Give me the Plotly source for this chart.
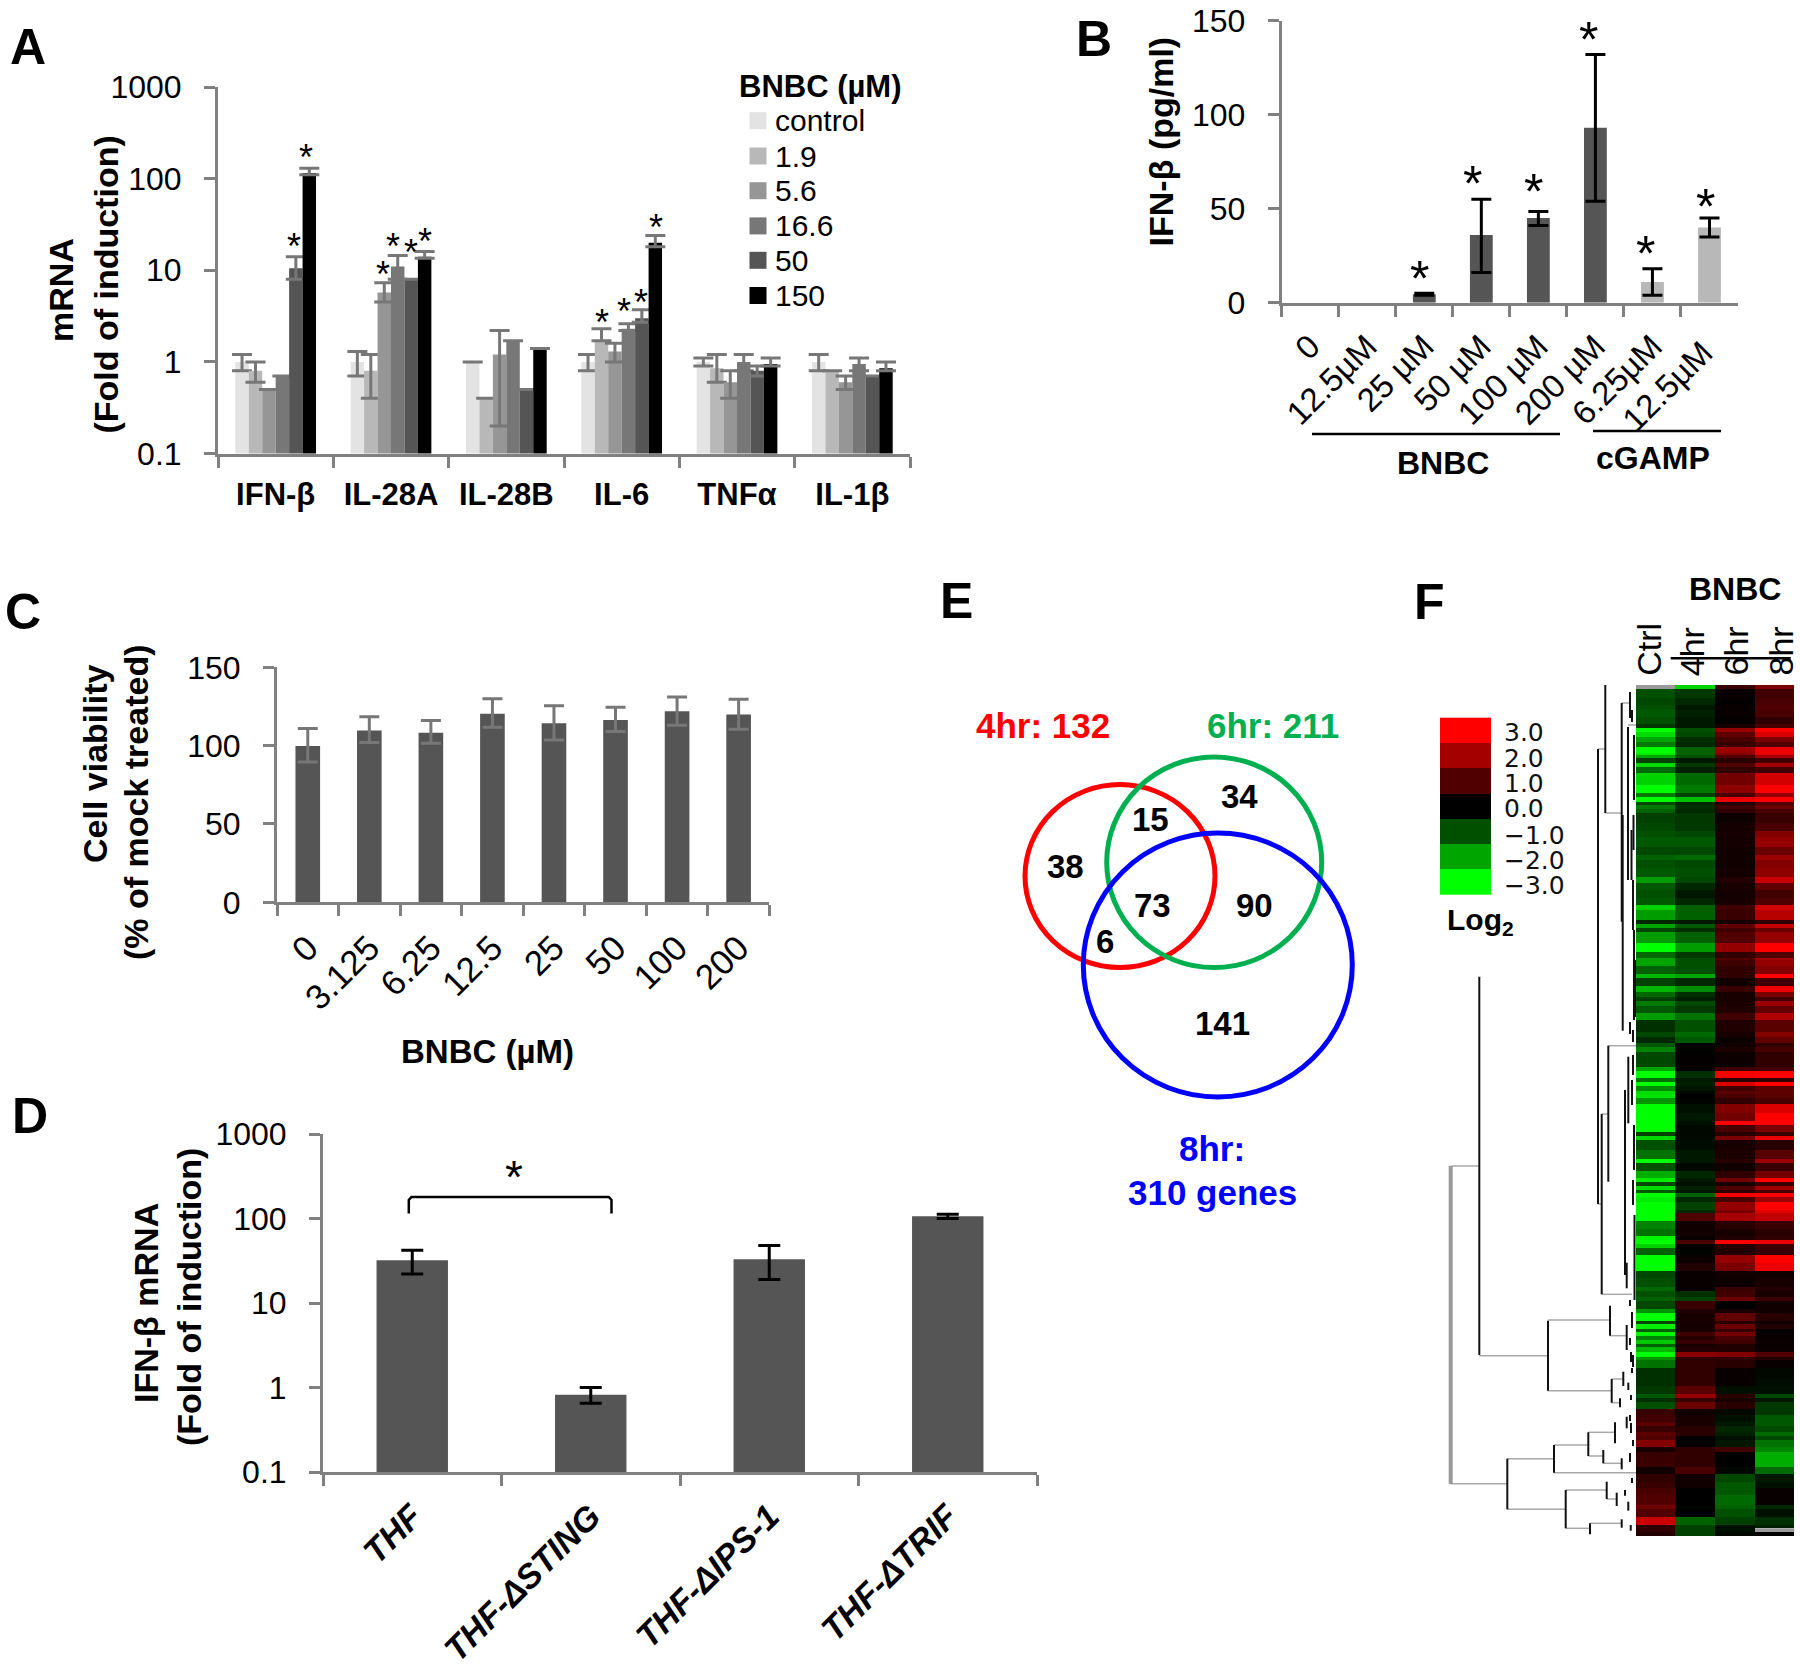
import plotly.graph_objects as go

W, H = 1800, 1669
FONT = "Liberation Sans"
AXIS = "#808080"
ERR = "#777777"
DARK = "#555555"
LIGHT = "#b8b8b8"

# ---------- Panel A ----------
a_cats = ["IFN-β", "IL-28A", "IL-28B", "IL-6", "TNFα", "IL-1β"]
a_doses = ["control", "1.9", "5.6", "16.6", "50", "150"]
a_colors = ["#e3e3e3", "#b8b8b8", "#969696", "#777777", "#555555", "#000000"]
a_control = [1.0, 1.0, 1.0, 1.0, 1.0, 1.0]
a_d19 = [0.8, 0.8, 0.4, 1.7, 0.85, 0.8]
a_d56 = [0.5, 5.7, 1.2, 1.3, 0.6, 0.6]
a_d166 = [0.7, 11.0, 1.7, 2.3, 1.0, 0.95]
a_d50 = [10.5, 8.0, 0.5, 3.0, 0.8, 0.7]
a_d150 = [115.0, 14.0, 1.4, 20.0, 0.95, 0.85]
a_low_control = [0.8, 0.7, 1.0, 0.8, 0.9, 0.8]
a_low_d19 = [0.6, 0.4, 0.4, 1.7, 0.6, 0.8]
a_low_d56 = [0.5, 4.5, 0.2, 1.0, 0.4, 0.5]
a_low_d166 = [0.7, 8.0, 1.7, 2.2, 0.8, 0.8]
a_low_d50 = [8.0, 8.0, 0.5, 2.7, 0.7, 0.7]
a_low_d150 = [110.0, 13.5, 1.4, 18.0, 0.9, 0.8]
a_high_control = [1.2, 1.3, 1.0, 1.2, 1.1, 1.2]
a_high_d19 = [1.0, 1.2, 0.4, 2.3, 1.2, 0.8]
a_high_d56 = [0.5, 7.3, 2.2, 1.6, 0.8, 0.7]
a_high_d166 = [0.7, 14.5, 1.7, 2.6, 1.2, 1.1]
a_high_d50 = [14.0, 8.0, 0.5, 3.7, 0.9, 0.7]
a_high_d150 = [130.0, 16.0, 1.4, 24.0, 1.1, 1.0]

# ---------- Panel B ----------
b_cats = ["0", "12.5µM", "25 µM", "50 µM", "100 µM", "200 µM", "6.25µM", "12.5µM "]
b_vals = [None, None, 4.5, 36, 45, 93, 11, 40]
b_low = [None, None, 4, 16, 41, 54, 4, 35]
b_high = [None, None, 5, 55, 48.5, 132, 18, 45]
b_colors = [DARK, DARK, DARK, DARK, DARK, DARK, LIGHT, LIGHT]

# ---------- Panel C ----------
c_cats = ["0", "3.125", "6.25", "12.5", "25", "50", "100", "200"]
c_vals = [99.8, 109.6, 108.3, 120.4, 114.3, 116.4, 122, 119.8]
c_low = [89.6, 102, 101.5, 111.7, 103.6, 109, 113, 110.4]
c_high = [111, 118.5, 116, 130, 125.5, 124.5, 131, 129.6]

# ---------- Panel D ----------
d_cats = ["THF", "THF-ΔSTING", "THF-ΔIPS-1", "THF-ΔTRIF"]
d_vals = [32, 0.82, 33, 106]
d_low = [22, 0.65, 19, 100]
d_high = [42, 1.0, 48, 112]

log_ticks = [0.1, 1, 10, 100, 1000]
log_labels = ["0.1", "1", "10", "100", "1000"]

# ---------- Panel F: heat map, (band bottom, ctrl, 4hr, 6hr, 8hr) ----------
heat_top_start = 345
heat_top = [
    (357, None, -2.5, 0.7, 1.5), (385, -1, -0.7, 0.1, 0.8), (405, -0.9, -0.5, 0.05, 0.9),
    (420, -1.0, -0.3, 0.1, 1.0), (440, -1.1, -0.4, 0.1, 0.9), (462, -1.0, -0.3, 0.05, 0.6),
    (474, -0.7, -0.3, 0.3, 0.9), (486, -3, -1, 1.8, 3), (500, -2.6, -0.9, 1.2, 2.6),
    (515, -2.0, -0.6, 0.9, 1.5), (532, -1.5, -0.5, 0.7, 1.0), (548, -3, -1.2, 1.9, 2.8),
    (556, -2.8, -1.2, 1.6, 2.7), (565, -2, -1, 1, 2), (578, -0.8, -0.3, 0.5, 0.8),
    (592, -2.6, -0.7, 1, 2), (610, -1.3, -0.4, 0.6, 0.8), (645, -2.5, -1.3, 1.4, 2.5),
    (670, -3, -1.5, 1.7, 3), (680, -1.5, -0.8, 0.9, 1.8), (695, -3, -2.3, 2.8, 3),
    (705, -0.9, -0.5, 0.4, 1), (718, -1.5, -0.6, 0.8, 1.3), (730, -1.2, -0.5, 0.6, 0.9),
    (760, -0.8, -0.7, 0.15, 0.7), (782, -0.9, -0.7, 0.25, 0.9), (800, -1.0, -0.9, 0.3, 1.6),
    (830, -1.1, -1.1, 0.25, 1.8), (855, -0.9, -0.9, 0.2, 1.3), (870, -1.2, -1.3, 0.2, 1.9),
    (895, -1.0, -0.9, 0.2, 1.6), (920, -1.1, -1, 0.25, 1.7), (940, -1.9, -0.9, 0.4, 2.4),
    (960, -1.1, -0.5, 0.3, 1.2), (985, -1.0, -0.3, 0.25, 0.8), (1005, -1.1, -0.5, 0.3, 1.0),
    (1020, -2.5, -1.2, 0.8, 2.5), (1050, -1.9, -1.2, 0.7, 2.2), (1062, -0.5, -0.3, 0.3, 0.6),
    (1075, -2, -1.1, 1.2, 2.4), (1085, -0.9, -0.6, 0.8, 1.3), (1120, -1.9, -1.2, 1.0, 1.8),
    (1145, -3, -1.9, 1.8, 3), (1165, -1.3, -0.7, 0.6, 1), (1170, -2, -1, 1, 2),
]
heat_mid = [
    (18, -2, -1, 0.8, 1.8), (42, -1.2, -1, 0.6, 1.6), (55, -2.2, -2, 0.6, 3),
    (78, -0.8, -0.5, 0.2, 0.8), (95, -2.2, -1.7, 0.7, 2.8), (112, -1.3, -0.6, 0.3, 1.5),
    (122, -0.8, -0.4, 0.3, 0.8), (138, -1.5, -0.9, 0.35, 1.9), (158, -1.1, -0.7, 0.4, 1.2),
    (180, -1.9, -1.4, 0.8, 2.1), (215, -0.6, -1.0, 0.4, 1.1), (232, -0.9, -1.3, 0.3, 1.6),
    (250, -0.5, -1.1, 0.15, 1.2), (262, -1.1, -0.05, 0.2, 0.6), (275, -1.6, -0.05, 0.35, 0.9),
    (320, -0.9, 0.05, 0.15, 0.6), (332, -2, 0, 0.8, 0.8), (355, -3, -0.6, 2.9, 3),
    (367, -1.4, -0.3, 0.5, 0.6), (378, -3, -0.4, 2.6, 3), (392, -1.7, -0.25, 0.8, 1.1),
    (403, -2.6, -0.1, 1.1, 1.2), (415, -2.7, 0, 0.9, 1.1), (433, -1.8, -0.05, 0.6, 0.9),
    (460, -3, -0.2, 1.6, 2.6), (483, -3, -0.3, 1.4, 3), (495, -3, -0.2, 3, 3),
    (515, -3, -0.1, 0.9, 1.5), (527, -0.8, -0.1, 0.5, 0.7), (540, -2.6, -0.1, 1.5, 2.8),
    (570, -1, -0.15, 0.3, 0.5), (597, -1.4, -0.3, 0.35, 1.1), (610, -3, -0.3, 0.5, 1.9),
    (632, -1, -0.1, 0.2, 0.7), (655, -2.1, -0.5, 0.6, 1.4), (667, -2.8, -0.3, 1.4, 3),
    (678, -0.9, -0.2, 0.3, 0.7), (690, -2.6, -0.4, 1.0, 2), (700, -1.1, -0.3, 0.6, 0.9),
    (712, -3, -1.2, 2.9, 3), (725, -2.8, -0.5, 0.9, 1.9), (750, -3, -0.8, 1.8, 3),
    (760, -3, -0.5, 1.5, 2.7), (782, -3, 1, 2, 2.3), (806, -1.6, 0.2, 0.5, 0.7),
    (828, -1.4, 0.2, 0.3, 0.5), (840, -2.9, 0.1, 0.4, 0.6), (852, -3, 0.9, 3, 2.8),
    (865, -2.5, 0.1, 0.5, 0.8), (885, -1.2, -0.05, 0.4, 0.7), (910, -3, 0.15, 1.8, 3),
    (932, -3, 0.4, 1.5, 2.8), (955, -0.9, 0.1, 0.2, 0.2), (980, -1, 0.1, 0.15, 0.3),
    (992, -1.3, 0.1, 0.7, 0.4), (1010, -1, -0.6, 0.8, 0.3), (1020, -1.2, -0.8, 1.3, 0.7),
]
heat_bot = [
    (4, -1.2, -0.8, 1.3, 0.7), (28, -0.9, 0.7, 0, 0.2), (40, -1.8, 0.4, 0.3, 0.2),
    (62, -3, 0.3, 1.2, 0.5), (72, -0.9, 0.3, 0.5, 0.2), (88, -2.8, 0.25, 1.3, 0.4),
    (96, -1.2, 0.3, 0.7, 0.1), (108, -2.9, 0.8, 1.4, 0.1), (120, -1.6, 0.5, 0.9, 0.1),
    (132, -2.4, 0.7, 0.8, 0.15), (142, -1.2, 0.3, 0.4, 0.1), (155, -2.2, 0.4, 0.4, 0.15),
    (170, -3, 1.7, 1.6, 1), (180, -1.8, 0.6, 0.6, 0.4), (203, -1.4, 0.6, 0.5, 0.1),
    (235, -0.6, 0.6, 0.1, -0.1), (258, -0.6, 0.6, 0.1, -0.15), (282, -0.7, 1.1, -0.2, -0.2),
    (294, -1.1, 1.8, 0.5, -0.9), (305, -0.6, 0.7, 0.3, -0.3), (328, -1.0, 1.3, 0.5, -0.7),
    (345, 0.7, 0.2, -0.1, -0.7), (365, 0.8, 0.3, -0.2, -1.1), (378, 1.1, 0.3, -0.3, -1.1),
    (395, 0.7, 0.5, -0.5, -0.9), (408, 1.1, 0.5, -0.4, -1.3), (420, 1.0, 0.0, -0.2, -0.9),
    (442, 1.6, 0, -0.3, -1.4), (455, 0.3, 0.6, 0.8, -1.6), (500, 0.7, 0.6, 0, -2.1),
    (522, 0.2, 0.9, -0.1, -1.3), (545, 0.6, 0.2, -0.9, -0.3), (565, 0.7, 0.2, -1.1, -0.2),
    (585, 0.9, 0, -1.1, 0.1), (615, 1.0, 0, -1.3, 0.1), (628, 1.4, -0.05, -1.2, -0.5),
    (650, 1, 0, -1, -0.2), (675, 2.4, -1.2, -0.8, -0.6), (685, 0.6, -0.8, -0.2, -0.4),
    (697, 0.6, -0.8, -0.2, None), (708, 0.4, -0.8, -0.1, 0),
]
heat_cols = ["Ctrl", "4hr", "6hr", "8hr"]
heat_col_edges = [1636, 1675.3, 1715, 1754.7, 1794.3]
legend_steps = [3, 2, 1, 0, -1, -2, -3]
legend_labels = ["3.0", "2.0", "1.0", "0.0", "−1.0", "−2.0", "−3.0"]

# ---------- Panel F: tree ----------
tree_black = [  # (x, y top, y bottom)
    (1605.3, 685, 813), (1598, 749, 1204), (1621.7, 703, 921.7), (1622.7, 815, 1030.7),
    (1628, 727, 880), (1630, 692, 718), (1632, 710, 722), (1634, 735, 800), (1633.5, 815, 850),
    (1631.5, 830, 880), (1633, 880, 930), (1634, 930, 1020), (1635, 960, 1017),
    (1630, 1022, 1034), (1633, 1030, 1042), (1479.3, 976.7, 1355), (1548, 1320.7, 1390.7),
    (1610, 1305.7, 1335.7), (1626.7, 1325, 1350), (1608.3, 1045.7, 1181.7), (1601.7, 1114, 1294.3),
    (1625, 1090, 1275), (1628.3, 1056.7, 1123.3), (1633, 1055, 1075), (1632, 1080, 1105),
    (1634, 1125, 1170), (1633, 1180, 1205), (1634.5, 1215, 1300), (1626.7, 1262.7, 1288.3),
    (1630, 1300, 1306), (1632, 1312, 1328), (1630, 1338, 1345), (1631, 1352, 1362), (1633, 1355, 1367),
    (1611.7, 1379, 1402.7), (1620, 1398.3, 1407.3), (1623.3, 1371.7, 1386), (1628.3, 1382.7, 1390),
    (1632, 1368, 1373), (1631, 1395, 1400), (1626.7, 1416.7, 1428.3), (1630, 1415, 1421),
    (1631, 1423, 1433), (1633, 1440, 1446), (1603.3, 1450, 1463.3), (1621.7, 1458.3, 1469.3),
    (1630, 1453, 1462), (1507.3, 1458.7, 1509.3), (1554, 1445, 1472.7), (1588.3, 1432.3, 1456),
    (1615, 1422.3, 1443.3), (1565.7, 1490, 1528.3), (1606.7, 1481.7, 1499), (1616.7, 1492.7, 1506),
    (1625, 1490, 1495.7), (1628.3, 1501.7, 1510.7), (1632, 1478, 1483), (1590, 1523.3, 1534.3),
    (1621.7, 1519.3, 1527.7), (1630.7, 1525, 1530.7),
]
tree_grey = [  # (y, x left, x right)
    (1166, 1450.7, 1479.3), (1355.7, 1479.3, 1548), (1320, 1548, 1610), (1335.7, 1610, 1626.7),
    (1045.7, 1608.3, 1636), (1114, 1601.7, 1608.3), (1294.3, 1601.7, 1632), (1204, 1598, 1601.7),
    (1483.7, 1450.7, 1507.3), (1458.7, 1507.3, 1554), (1445, 1554, 1588.3), (1432.3, 1588.3, 1615),
    (1456, 1588.3, 1603.3), (1463.3, 1603.3, 1621.7), (1472.7, 1554, 1636), (1509.3, 1507.3, 1565.7),
    (1490, 1565.7, 1606.7), (1528.3, 1565.7, 1590), (1523.3, 1590, 1621.7), (1499, 1606.7, 1616.7),
    (1390.7, 1548, 1611.7), (1402.7, 1611.7, 1620), (1379, 1611.7, 1623.3), (703, 1621.7, 1630),
    (749, 1598, 1605.3), (725, 1628, 1636), (813, 1605.3, 1622.7),
]
tree_root = [(1450.7, 1166, 1484)]

# ---------- Panel E ----------
venn_names = ["4hr", "6hr", "8hr"]
venn_colors = ["#ff0000", "#00b050", "#0000ff"]
venn_left = [1025, 1106.7, 1083.3]
venn_right = [1215, 1321.7, 1352.3]
venn_top = [784.6, 757, 833]
venn_bottom = [967.6, 967.6, 1097]
venn_counts = ["38", "34", "15", "73", "90", "6", "141"]
venn_count_x = [1065, 1239, 1150, 1152, 1254, 1105, 1222]
venn_count_y = [866, 796, 819, 905.6, 905, 941.6, 1023]

# ---------- star marks (page position) ----------
stars_a_x = [293.6, 305.5, 383, 392.6, 411, 424.7, 602, 624, 640.6, 656]
stars_a_y = [239.6, 150, 267, 239, 245.5, 234.5, 315, 304.5, 295, 220.7]
stars_b_x = [1419.4, 1472.7, 1533, 1588, 1645, 1705]
stars_b_y = [269, 174, 181.7, 30, 244, 197]


def dom_x(l, r):
    return [l / W, r / W]


def dom_y(t, b):
    return [1 - b / H, 1 - t / H]


fig = go.Figure()

# A ---------------------------------------------------------------
a_series = [a_control, a_d19, a_d56, a_d166, a_d50, a_d150]
a_lows = [a_low_control, a_low_d19, a_low_d56, a_low_d166, a_low_d50, a_low_d150]
a_highs = [a_high_control, a_high_d19, a_high_d56, a_high_d166, a_high_d50, a_high_d150]
bw = 0.7 / 6
for i, (name, col, vals, lo, hi) in enumerate(zip(a_doses, a_colors, a_series, a_lows, a_highs)):
    fig.add_bar(
        x=a_cats, y=vals, name=name, marker=dict(color=col, line=dict(width=0)),
        width=bw, offset=-0.35 + i * bw, xaxis="x", yaxis="y", showlegend=False,
        error_y=dict(type="data", symmetric=False,
                     array=[h - v for h, v in zip(hi, vals)],
                     arrayminus=[v - l for v, l in zip(vals, lo)],
                     color=ERR, thickness=3, width=10),
    )

# B ---------------------------------------------------------------
fig.add_bar(
    x=b_cats, y=b_vals, marker=dict(color=b_colors, line=dict(width=0)), xaxis="x2", yaxis="y2",
    showlegend=False,
    error_y=dict(type="data", symmetric=False,
                 array=[None if v is None else h - v for h, v in zip(b_high, b_vals)],
                 arrayminus=[None if v is None else v - l for v, l in zip(b_vals, b_low)],
                 color="#000000", thickness=3, width=10),
)
# C ---------------------------------------------------------------
fig.add_bar(
    x=c_cats, y=c_vals, marker=dict(color=DARK, line=dict(width=0)), xaxis="x3", yaxis="y3",
    showlegend=False,
    error_y=dict(type="data", symmetric=False,
                 array=[h - v for h, v in zip(c_high, c_vals)],
                 arrayminus=[v - l for v, l in zip(c_vals, c_low)],
                 color=ERR, thickness=3, width=10),
)
# D ---------------------------------------------------------------
fig.add_bar(
    x=d_cats, y=d_vals, marker=dict(color=DARK, line=dict(width=0)), xaxis="x4", yaxis="y4",
    showlegend=False,
    error_y=dict(type="data", symmetric=False,
                 array=[h - v for h, v in zip(d_high, d_vals)],
                 arrayminus=[v - l for v, l in zip(d_vals, d_low)],
                 color="#000000", thickness=3, width=11),
)

# overlay in page pixels ------------------------------------------
OV = dict(xaxis="x5", yaxis="y5", showlegend=False, hoverinfo="skip")

# heat map
heat_scale = [[0, "#00ff00"], [1 / 6, "#00a500"], [2 / 6, "#005000"], [0.5, "#000000"],
              [4 / 6, "#500000"], [5 / 6, "#a50000"], [1, "#ff0000"]]
edges = [570 + heat_top_start / 3]
rows = []
for base, table in ((570, heat_top), (960, heat_mid), (1300, heat_bot)):
    for row in table:
        edges.append(base + row[0] / 3)
        rows.append(list(row[1:]))
fig.add_heatmap(x=heat_col_edges, y=edges, z=rows, colorscale=heat_scale, zmin=-3, zmax=3,
                showscale=False, **OV)
# colour key
key_edges = [717.7, 743, 768.3, 793.6, 818.9, 844.2, 869.5, 895]
fig.add_heatmap(x=[1440, 1491], y=key_edges, z=[[v] for v in legend_steps], colorscale=heat_scale,
                zmin=-3, zmax=3, showscale=False, **OV)

# tree
def seg(vertical):
    xs, ys = [], []
    for a, b, c in vertical:
        xs += [a, a, None]
        ys += [b, c, None]
    return xs, ys


def hseg(horizontal):
    xs, ys = [], []
    for a, b, c in horizontal:
        xs += [b, c, None]
        ys += [a, a, None]
    return xs, ys


gx, gy = hseg(tree_grey)
fig.add_scatter(x=gx, y=gy, mode="lines", line=dict(color="#a8a8a8", width=1.5), **OV)
bx, by = seg(tree_black)
fig.add_scatter(x=bx, y=by, mode="lines", line=dict(color="#111111", width=2), **OV)
rx, ry = seg(tree_root)
fig.add_scatter(x=rx, y=ry, mode="lines", line=dict(color="#999999", width=4), **OV)

# legend swatches of A
a_key_y = [120.7, 156, 190.7, 225.9, 260.3, 295.5]
fig.add_scatter(x=[758] * 6, y=a_key_y, mode="markers",
                marker=dict(symbol="square", size=17, color=a_colors, line=dict(width=0)), **OV)

# bracket of D, rules of B and F
fig.add_scatter(x=[408.8, 408.8, 411.5, 608.8, 611.5, 611.5], y=[1213.5, 1200, 1197, 1197, 1200, 1213.5],
                mode="lines", line=dict(color="#000000", width=2.5), **OV)
fig.add_scatter(x=[1312, 1560, None, 1593, 1721, None, 1670.7, 1790.7],
                y=[434, 434, None, 431, 431, None, 658.3, 658.3],
                mode="lines", line=dict(color="#000000", width=2.5), **OV)

annotations = []


def note(text, x, y, size, bold=True, color="#000000", angle=0, xanchor="center", yanchor="middle"):
    annotations.append(dict(
        text=text, x=x, y=y, xref="x5", yref="y5", showarrow=False, textangle=angle,
        xanchor=xanchor, yanchor=yanchor, borderpad=0,
        font=dict(family=FONT, size=size, color=color, weight=700 if bold else 400),
    ))


# panel letters
for letter, lx, ly in (("A", 28, 46.5), ("B", 1094, 39.3), ("C", 23, 611.7), ("D", 30, 1116),
                       ("E", 956.7, 601), ("F", 1429, 601.7)):
    note(letter, lx, ly, 50)

# axis titles
note("mRNA", 61, 290, 34, angle=-90)
note("(Fold of induction)", 105.6, 285, 34, angle=-90)
note("IFN-β (pg/ml)", 1161.4, 141, 34, angle=-90)
note("Cell viability", 95, 764, 34, angle=-90)
note("(% of mock treated)", 136, 802, 34, angle=-90)
note("IFN-β mRNA", 146, 1303, 34, angle=-90)
note("(Fold of induction)", 189, 1297, 34, angle=-90)
note("BNBC (µM)", 487, 1051.7, 33)
note("BNBC", 1443, 462.7, 32)
note("cGAMP", 1653, 458, 32)

# legend of A
note("BNBC (µM)", 738, 86.2, 31, xanchor="left")
for lab, ky in zip(a_doses, a_key_y):
    note(lab, 774, ky, 30, bold=False, xanchor="left")

# stars
for sx, sy in zip(stars_a_x, stars_a_y):
    note("*", sx, sy + 7, 36, bold=False)
for sx, sy in zip(stars_b_x, stars_b_y):
    note("*", sx, sy + 10, 50, bold=False)
note("*", 513.5, 1177, 46, bold=False)

# venn
note("4hr: 132", 1043, 725, 35, color="#ff0000")
note("6hr: 211", 1273, 725, 35, color="#00b050")
note("8hr:", 1212, 1148.5, 35, color="#0000ff")
note("310 genes", 1212, 1192, 35, color="#0000ff")
for t, vx, vy in zip(venn_counts, venn_count_x, venn_count_y):
    note(t, vx, vy, 33)

# panel F text
note("BNBC", 1735, 589.3, 32)
for col, hx, hy in zip(heat_cols, [1648.3, 1691.7, 1735, 1780], [677, 677, 677, 677]):
    note(col, hx, hy, 34, bold=False, angle=-90, yanchor="bottom")
key_y = [732.3, 758.3, 783.3, 808.3, 835, 860, 885]
for lab, ky in zip(legend_labels, key_y):
    annotations.append(dict(text=lab, x=1502.7, y=ky, xref="x5", yref="y5", showarrow=False,
                            xanchor="left", yanchor="middle", borderpad=0,
                            font=dict(family="DejaVu Sans", size=25, color="#111111")))
note("Log<sub>2</sub>", 1446, 921.7, 30, xanchor="left")

# shapes
shapes = []
for name, col, l, r, t, b in zip(venn_names, venn_colors, venn_left, venn_right, venn_top, venn_bottom):
    shapes.append(dict(type="circle", xref="x5", yref="y5", x0=l, x1=r, y0=t, y1=b,
                       line=dict(color=col, width=5), fillcolor="rgba(0,0,0,0)"))
# cells with no value in the heat map
shapes.append(dict(type="rect", xref="x5", yref="y5", x0=1636, x1=1675.3, y0=685, y1=689,
                   fillcolor="#9a9a9a", line=dict(width=0), layer="below"))
shapes.append(dict(type="rect", xref="x5", yref="y5", x0=1754.7, x1=1794.3, y0=1528.3, y1=1532.3,
                   fillcolor="#9a9a9a", line=dict(width=0), layer="below"))


def y_axis(anchor, l, t, b, **kw):
    return dict(anchor=anchor, domain=dom_y(t, b), showline=True, linecolor=AXIS, linewidth=3,
                showgrid=False, zeroline=False, ticks="outside", ticklen=11, tickwidth=2.5,
                tickcolor=AXIS, ticklabelstandoff=16, automargin=False,
                tickfont=dict(family=FONT, size=32, color="#000000"), **kw)


def x_axis(anchor, l, r, **kw):
    return dict(anchor=anchor, domain=dom_x(l, r), type="category", showline=True, linecolor=AXIS,
                linewidth=3, showgrid=False, zeroline=False, ticks="outside", ticklen=11, automargin=False,
                tickwidth=2.5, tickcolor=AXIS, tickson="boundaries", **kw)


fig.update_layout(
    width=W, height=H, margin=dict(l=0, r=0, t=0, b=0), paper_bgcolor="white", plot_bgcolor="rgba(0,0,0,0)",
    bargap=0.6, barmode="group", showlegend=False, annotations=annotations, shapes=shapes,
    font=dict(family=FONT),
    xaxis=x_axis("y", 218, 910, range=[-0.5, 5.5], ticklabelstandoff=11,
                 tickfont=dict(family=FONT, size=31, color="#000000", weight=700)),
    yaxis=y_axis("x", 218, 87, 453.5, type="log", range=[-1, 3], tickvals=log_ticks, ticktext=log_labels),
    xaxis2=x_axis("y2", 1281.7, 1738, range=[-0.5, 7.5], tickangle=-45, ticklabelstandoff=8,
                  tickfont=dict(family=FONT, size=33, color="#000000")),
    yaxis2=y_axis("x2", 1281.7, 20.7, 302.7, range=[0, 150], tickvals=[0, 50, 100, 150]),
    xaxis3=x_axis("y3", 277, 769.4, range=[-0.5, 7.5], tickangle=-45, ticklabelstandoff=8,
                  tickfont=dict(family=FONT, size=35, color="#000000")),
    yaxis3=y_axis("x3", 277, 667.3, 902.3, range=[0, 150], tickvals=[0, 50, 100, 150]),
    xaxis4=x_axis("y4", 323, 1037, range=[-0.5, 3.5], tickangle=-45, ticklabelstandoff=8,
                  tickfont=dict(family=FONT, size=34, color="#000000", weight=700, style="italic")),
    yaxis4=y_axis("x4", 323, 1134, 1472, type="log", range=[-1, 3], tickvals=log_ticks, ticktext=log_labels),
    xaxis5=dict(domain=[0, 1], range=[0, W], visible=False, anchor="y5", fixedrange=True, automargin=False),
    yaxis5=dict(domain=[0, 1], range=[H, 0], visible=False, anchor="x5", fixedrange=True, automargin=False),
)

fig.write_html("out.html", config=dict(displayModeBar=False),
               post_script="document.body.style.margin='0';document.body.style.overflow='hidden';")
